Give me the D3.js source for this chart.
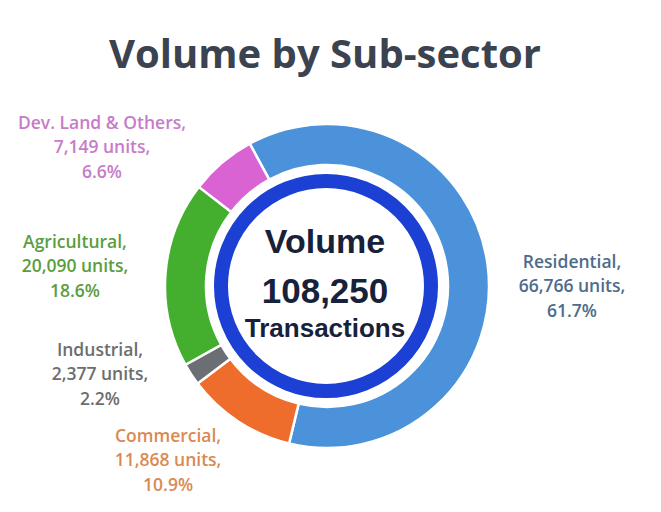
<!DOCTYPE html>
<html>
<head>
<meta charset="utf-8">
<script src="https://cdn.jsdelivr.net/npm/d3@7"></script>
<style>
  body { margin: 0; background: #fff; }
</style>
</head>
<body>
<div id="chart"></div>
<script>
// data
var sectors = ["Residential", "Commercial", "Industrial", "Agricultural", "Dev. Land & Others"];
var units = [66766, 11868, 2377, 20090, 7149];
var shares = ["61.7%", "10.9%", "2.2%", "18.6%", "6.6%"];
var colors = ["#4b92db", "#ef6d2c", "#6b6e72", "#44ae2e", "#d963d3"];
var labelColors = ["#4d6c8c", "#d98a52", "#6d6d6d", "#5b9d3e", "#c67cc7"];
var total = 108250;

// label anchors: [angle deg, radius]
var labelAnchor = [[90, 245], [222.4, 235.7], [248.8, 243.5], [274.5, 252.8], [301.7, 264.5]];

var width = 661, height = 512;
var cx = 327, cy = 286;
var svg;

function init() {
  svg = d3.select('#chart').append('svg')
    .attr('width', width)
    .attr('height', height);
}

function title(text) {
  svg.append('text')
    .attr('x', 325)
    .attr('y', 68)
    .attr('text-anchor', 'middle')
    .style('font-family', 'Open Sans')
    .style('font-weight', 700)
    .style('font-size', '40px')
    .style('fill', '#3b4250')
    .text(text);
}

function donut() {
  var start = -28.5 * Math.PI / 180;
  var pie = d3.pie().sort(null).startAngle(start).endAngle(start + 2 * Math.PI);
  var arc = d3.arc().innerRadius(121).outerRadius(162);
  var g = svg.append('g')
    .attr('transform', 'translate(' + cx + ',' + cy + ')');
  g.selectAll('path')
    .data(pie(units))
    .enter().append('path')
    .attr('d', arc)
    .attr('fill', function (d, i) { return colors[i]; })
    .attr('stroke', '#fff')
    .attr('stroke-width', 2.5);
}

function ring() {
  svg.append('circle')
    .attr('cx', 326)
    .attr('cy', 286)
    .attr('r', 105)
    .attr('fill', '#fff')
    .attr('stroke', '#1c3fd4')
    .attr('stroke-width', 14);

  var lines = [["Volume", 34, 253], [d3.format(',')(total), 35, 303], ["Transactions", 26, 337]];
  lines.forEach(function (l) {
    svg.append('text')
      .attr('x', 325)
      .attr('y', l[2])
      .attr('text-anchor', 'middle')
      .style('font-family', 'Liberation Sans, Arial')
      .style('font-weight', 700)
      .style('font-size', l[1] + 'px')
      .style('fill', '#17213a')
      .text(l[0]);
  });
}

function labels() {
  var fmt = d3.format(',');
  sectors.forEach(function (s, i) {
    var a = labelAnchor[i][0] * Math.PI / 180;
    var r = labelAnchor[i][1];
    var x = cx + r * Math.sin(a);
    var y = cy - r * Math.cos(a);
    var t = svg.append('text')
      .attr('x', x)
      .attr('y', y)
      .attr('text-anchor', 'middle')
      .style('font-family', 'Open Sans')
      .style('font-weight', 600)
      .style('font-size', '17.5px')
      .style('fill', labelColors[i]);
    [s + ',', fmt(units[i]) + ' units,', shares[i]].forEach(function (line, k) {
      t.append('tspan')
        .attr('x', x)
        .attr('y', y + (k - 1) * 24.5 + 6)
        .text(line);
    });
  });
}

init();
title('Volume by Sub-sector');
donut();
ring();
labels();
</script>
</body>
</html>
